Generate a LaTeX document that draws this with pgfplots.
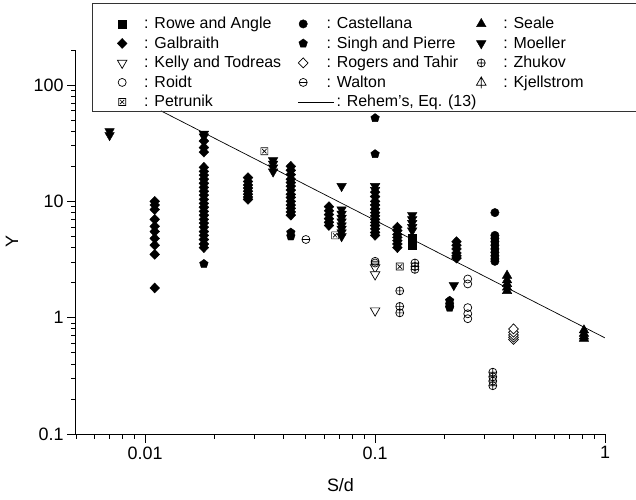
\documentclass[border=0pt]{standalone}
\usepackage{fontspec}
\setmainfont{Liberation Sans}
\usepackage{pgfplots}
\pgfplotsset{compat=1.18}
\usetikzlibrary{plotmarks}
\pgfdeclareplotmark{boxx}{%
  \pgfpathrectangle{\pgfqpoint{-\pgfplotmarksize}{-\pgfplotmarksize}}{\pgfqpoint{2\pgfplotmarksize}{2\pgfplotmarksize}}%
  \pgfpathmoveto{\pgfqpoint{-.6\pgfplotmarksize}{-.6\pgfplotmarksize}}%
  \pgfpathlineto{\pgfqpoint{.6\pgfplotmarksize}{.6\pgfplotmarksize}}%
  \pgfpathmoveto{\pgfqpoint{-.6\pgfplotmarksize}{.6\pgfplotmarksize}}%
  \pgfpathlineto{\pgfqpoint{.6\pgfplotmarksize}{-.6\pgfplotmarksize}}%
  \pgfusepathqstroke}
\pgfdeclareplotmark{tribar}{%
  \pgfpathmoveto{\pgfqpoint{0pt}{\pgfplotmarksize}}%
  \pgfpathlineto{\pgfqpoint{-.866\pgfplotmarksize}{-.5\pgfplotmarksize}}%
  \pgfpathlineto{\pgfqpoint{.866\pgfplotmarksize}{-.5\pgfplotmarksize}}%
  \pgfpathclose
  \pgfpathmoveto{\pgfqpoint{0pt}{\pgfplotmarksize}}%
  \pgfpathlineto{\pgfqpoint{0pt}{-1.1\pgfplotmarksize}}%
  \pgfusepathqstroke}
\pgfdeclareplotmark{circminus}{%
  \pgfpathcircle{\pgfpointorigin}{\pgfplotmarksize}%
  \pgfpathmoveto{\pgfqpoint{-\pgfplotmarksize}{0pt}}%
  \pgfpathlineto{\pgfqpoint{\pgfplotmarksize}{0pt}}%
  \pgfusepathqstroke}
\begin{document}
\begin{tikzpicture}
\begin{axis}[
  at={(0,0)}, anchor=south west,
  scale only axis, width=529bp, height=384bp,
  xmode=log, ymode=log,
  xmin=0.005, xmax=1, ymin=0.1, ymax=200,
  axis x line*=bottom, axis y line*=left,
  axis line style={-, line width=1bp},
  tick align=outside, major tick length=9bp, minor tick length=5bp,
  tick style={black, line width=0.9bp},
  xtick={0.01,0.1,1}, xticklabels={0.01,0.1,1},
  ytick={0.1,1,10,100}, yticklabels={0.1,1,10,100},
  minor xtick={0.005,0.006,0.007,0.008,0.009,0.02,0.03,0.04,0.05,0.06,0.07,0.08,0.09,0.2,0.3,0.4,0.5,0.6,0.7,0.8,0.9},
  minor ytick={0.2,0.3,0.4,0.5,0.6,0.7,0.8,0.9,2,3,4,5,6,7,8,9,20,30,40,50,60,70,80,90,200},
  ticklabel style={font=\fontsize{18}{21}\selectfont},
  xlabel={S/d}, ylabel={Y},
  every axis x label/.style={at={(axis description cs:0.5,0)}, anchor=center, yshift=-51bp, font=\fontsize{18}{21}\selectfont},
  every axis y label/.style={at={(axis description cs:-0.121,0.5)}, anchor=center, rotate=90, font=\fontsize{18}{21}\selectfont},
  legend columns=3,
  legend cell align=left,
  legend style={at={(axis description cs:0.0699,1.0938)}, anchor=north west,
    draw=none, fill=none, font=\fontsize{16}{19}\selectfont,
    row sep=0bp, inner sep=0bp,
    /tikz/column 2/.style={column sep=11bp},
    /tikz/column 4/.style={column sep=12bp}},
  legend image code/.code={\path[draw=none,fill=none] (-9bp,-9.75bp) rectangle (20bp,9.75bp); \draw plot coordinates {(0bp,0bp)};},
]
% Rowe and Angle
\addplot[only marks, mark=square*, mark size=4bp, black] coordinates {(0.145,4.8) (0.145,4.2)};
\addlegendentry{: Rowe and Angle}
% Castellana
\addplot[only marks, mark=*, mark size=4.2bp, black] coordinates {
(0.332,8) (0.332,5.1) (0.332,4.8) (0.332,4.5) (0.332,4.2) (0.332,3.9) (0.332,3.65) (0.332,3.4) (0.332,3.2) (0.332,3.05)};
\addlegendentry{\hspace{-10bp}: Castellana}
% Seale
\addplot[only marks, mark=triangle*, mark size=5.5bp, black] coordinates {
(0.375,2.3) (0.375,2.1) (0.375,1.95) (0.375,1.82) (0.375,1.7)
(0.81,0.78) (0.81,0.73) (0.81,0.69) (0.81,0.66)};
\addlegendentry{: Seale}
% Galbraith
\addplot[only marks, mark=diamond*, mark size=5bp, mark options={xscale=1.3}, black] coordinates {
(0.011,10) (0.011,9.3) (0.011,8.5) (0.011,7) (0.011,6.1) (0.011,5.5) (0.011,4.8) (0.011,4.2) (0.011,3.5) (0.011,1.8)
(0.018,33) (0.018,29) (0.018,26.5) (0.018,19.6) (0.018,18.1) (0.018,16.8) (0.018,15.5) (0.018,14.3) (0.018,13.2) (0.018,12.2) (0.018,11.3) (0.018,10.4) (0.018,9.6) (0.018,8.9) (0.018,8.2) (0.018,7.6) (0.018,7.0) (0.018,6.5) (0.018,6.0) (0.018,5.5) (0.018,5.1) (0.018,4.7) (0.018,4.3) (0.018,4.0)
(0.028,16) (0.028,14.8) (0.028,13.8) (0.028,13) (0.028,12.2) (0.028,11.5) (0.028,10.9) (0.028,10.4)
(0.043,20) (0.043,18.5) (0.043,17) (0.043,15.5) (0.043,14.5) (0.043,13.5) (0.043,12.5) (0.043,11.5) (0.043,10.8) (0.043,10) (0.043,9.3) (0.043,8.7) (0.043,8.1) (0.043,7.6)
(0.063,9) (0.063,8.3) (0.063,7.7) (0.063,7.1) (0.063,6.6) (0.063,6.2)
(0.1,12) (0.1,11) (0.1,10) (0.1,9.3) (0.1,8.6) (0.1,8) (0.1,7.5) (0.1,7) (0.1,6.6) (0.1,6.2) (0.1,5.8) (0.1,5.4) (0.1,5.1)
(0.125,6.0) (0.125,5.6) (0.125,5.2) (0.125,4.9) (0.125,4.6) (0.125,4.3) (0.125,4.0)
(0.226,4.5) (0.226,4.2) (0.226,3.9) (0.226,3.6) (0.226,3.4) (0.226,3.25)};
\addlegendentry{: Galbraith}
% Singh and Pierre
\addplot[only marks, mark=pentagon*, mark size=4.5bp, black] coordinates {
(0.018,2.9) (0.043,5.4) (0.043,5.0) (0.1,52) (0.1,25.5) (0.211,1.4) (0.211,1.3) (0.211,1.22)};
\addlegendentry{\hspace{-10bp}: Singh and Pierre}
% Moeller
\addplot[only marks, mark=triangle*, mark size=5.5bp, mark options={rotate=180}, black] coordinates {
(0.007,40) (0.007,37) (0.018,38) (0.018,36)
(0.036,22.5) (0.036,21) (0.036,19.5) (0.036,18)
(0.0715,13.5) (0.0715,8.5) (0.0715,7.8) (0.0715,7.2) (0.0715,6.7) (0.0715,6.2) (0.0715,5.8) (0.0715,5.4) (0.0715,5.0)
(0.1,13.5) (0.1,12.5)
(0.145,7.6) (0.145,7.0) (0.145,6.5) (0.145,6.0) (0.145,5.6)
(0.22,1.9)};
\addlegendentry{: Moeller}
% Kelly and Todreas
\addplot[only marks, mark=triangle*, mark size=5.5bp, mark options={rotate=180, fill=white, line width=0.7bp}, black] coordinates {
(0.1,2.7) (0.1,2.35) (0.1,1.15)};
\addlegendentry{: Kelly and Todreas}
% Rogers and Tahir
\addplot[only marks, mark=diamond*, mark size=5bp, mark options={fill=white, xscale=1.3, line width=0.7bp}, black] coordinates {
(0.4,0.65) (0.4,0.68) (0.4,0.71) (0.4,0.75) (0.4,0.8)};
\addlegendentry{\hspace{-10bp}: Rogers and Tahir}
% Zhukov
\addplot[only marks, mark=oplus, mark size=4bp, mark options={line width=0.7bp}, black] coordinates {
(0.128,1.7) (0.128,1.25) (0.128,1.1) (0.149,2.95) (0.149,2.75) (0.149,2.6) (0.211,1.25)
(0.325,0.34) (0.325,0.31) (0.325,0.285) (0.325,0.26)};
\addlegendentry{: Zhukov}
% Roidt
\addplot[only marks, mark=o, mark size=4bp, mark options={line width=0.7bp}, black] coordinates {
(0.253,2.15) (0.253,1.95) (0.253,1.22) (0.253,1.08) (0.253,0.98)};
\addlegendentry{: Roidt}
% Walton
\addplot[only marks, mark=circminus, mark size=4bp, mark options={line width=0.7bp}, black] coordinates {
(0.05,4.7) (0.1,3.05) (0.1,2.95)};
\addlegendentry{\hspace{-10bp}: Walton}
% Kjellstrom
\addlegendimage{only marks, mark=tribar, mark size=5.5bp, mark options={line width=0.7bp}, black}
\addlegendentry{: Kjellstrom}
% Petrunik
\addplot[only marks, mark=boxx, mark size=3.5bp, mark options={line width=0.7bp}, black] coordinates {
(0.033,27) (0.067,5.1) (0.128,2.75)};
\addlegendentry{: Petrunik}
% Rehem's Eq. (13)
\addplot[black, line width=0.7bp, no markers,
  legend image code/.code={\path[draw=none,fill=none] (-9bp,-9.75bp) rectangle (31bp,9.75bp); \draw[black, line width=0.7bp] (-5bp,0bp) -- (31bp,0bp);}]
  coordinates {(0.0117,60) (1,0.67)};
\addlegendentry{\makebox[0pt][l]{: Rehem's, Eq. (13)}}
\end{axis}
\draw[line width=0.8bp, black!80] (562bp,431bp) -- (16bp,431bp) -- (16bp,323bp) -- (562bp,323bp);
\pgfresetboundingbox
\useasboundingbox (-76bp,-66bp) rectangle (560bp,434bp);
\end{tikzpicture}
\end{document}
